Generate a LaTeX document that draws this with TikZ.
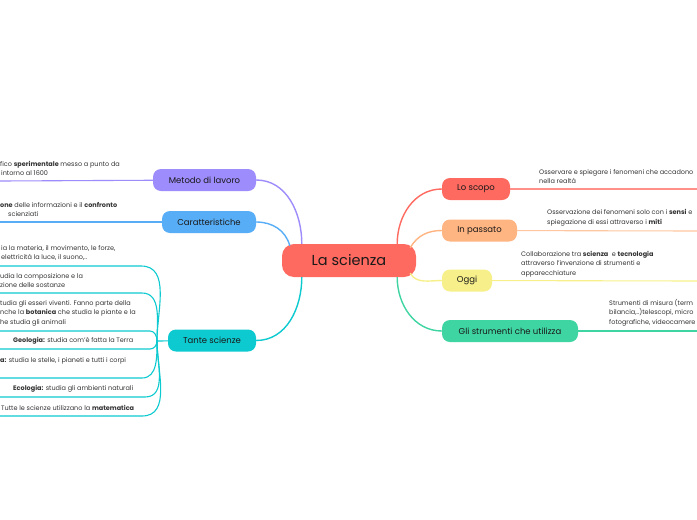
\documentclass[tikz,border=0pt]{standalone}
\usepackage{fontspec}
\setmainfont{Poppins}
\usetikzlibrary{positioning}
\definecolor{scired}{HTML}{FF6A60}
\definecolor{metcol}{HTML}{9D8CFB}
\definecolor{carcol}{HTML}{58AEF6}
\definecolor{tancol}{HTML}{0DCAD0}
\definecolor{pascol}{HTML}{FFB582}
\definecolor{ogcol}{HTML}{F7F08A}
\definecolor{strcol}{HTML}{3FD5A3}
\tikzstyle{topic}=[rounded corners=8pt,minimum height=22pt,inner sep=0pt,font=\fontsize{8.5}{10}\selectfont,text=black!90]
\tikzstyle{note}=[inner sep=0pt,align=left,font=\fontsize{6.5}{9.5}\selectfont,text=black!80]
\tikzstyle{link}=[line width=1.4pt]
\tikzstyle{twig}=[line width=1.1pt]

\begin{document}
\begin{tikzpicture}[x=1pt,y=-1pt]
            \useasboundingbox[fill=white] (0,0) rectangle (697,520);
            \node (sci) [topic,fill=scired,minimum width=134pt,minimum height=33pt,rounded corners=12pt,font=\fontsize{14.5}{16}\selectfont] at (349,260.5) {La scienza};

            % left side
            \node (metodo) [topic,fill=metcol,minimum width=103pt] at (204.5,180) {Metodo di lavoro};
            \node (carat) [topic,fill=carcol,minimum width=94pt] at (209,222) {Caratteristiche};
            \node (tante) [topic,fill=tancol,minimum width=88pt] at (212,340.5) {Tante scienze};

            \draw[link,metcol] ([xshift=20]sci.north west) to[out=90,in=0] (metodo.east);
            \draw[link,carcol] ([xshift=8,yshift=-2]sci.north west) to[out=105,in=0] (carat.east);
            \draw[link,tancol] ([xshift=20]sci.south west) to[out=-90,in=0] (tante.east);

            \coordinate (metend) at (0,181);
            \coordinate (carend) at (0,222);
            \draw[twig,metcol] (metodo) -- (metend);
            \draw[twig,carcol] (carat) -- (carend);
            \node (metnote) [note,anchor=south west] at (0,176) {fico \textbf{sperimentale} messo a punto da\\\hspace*{1pt}intorno al 1600};
            \node (carnote) [note,anchor=south west] at (0,217) {\textbf{one} delle informazioni e il \textbf{confronto}\\\hspace*{8pt}scienziati};

            % the many sciences
            \coordinate (tj) at (157,341);
            \draw[twig,tancol] (tante) -- (tj);
            \foreach \y/\x/\t [count=\i] in {266/141/90,293/142/90,331/150/90,349/150/-90,378/142/-90,397/145/-90,416/142/-90} {
              \coordinate (sc\i) at (\x,\y);
              \coordinate (se\i) at (0,\y);
              \draw[twig,tancol] (tj) to[out=\t,in=0] (sc\i) -- (se\i);
            }
            \node (fis) [note,anchor=south west] at (1,261) {ia la materia, il movimento, le forze,\\elettricità la luce, il suono,..};
            \node (chi) [note,anchor=south west] at (0,288) {udia la composizione e la\\zione delle sostanze};
            \node (bio) [note,anchor=south west] at (0,326) {tudia gli esseri viventi. Fanno parte della\\nche la \textbf{botanica} che studia le piante e la\\he studia gli animali};
            \node (geo) [note,anchor=south west] at (13,344) {\textbf{Geologia:} studia com'è fatta la Terra};
            \node (ast) [note,anchor=south west] at (0,364) {\textbf{a:} studia le stelle, i pianeti e tutti i corpi};
            \node (eco) [note,anchor=south west] at (13,392) {\textbf{Ecologia:} studia gli ambienti naturali};
            \node (mat) [note,anchor=south west] at (1,411) {Tutte le scienze utilizzano la \textbf{matematica}};

            % right side
            \node (scopo) [topic,fill=scired,minimum width=68pt] at (476,189) {Lo scopo};
            \node (passato) [topic,fill=pascol,minimum width=75pt] at (479.5,230.5) {In passato};
            \node (oggi) [topic,fill=ogcol,minimum width=50pt] at (467,280.5) {Oggi};
            \node (strum) [topic,fill=strcol,minimum width=136pt] at (510,331) {Gli strumenti che utilizza};

            \draw[link,scired] ([xshift=-19]sci.north east) to[out=90,in=180] (scopo.west);
            \draw[link,pascol] ([xshift=-6,yshift=-4]sci.north east) to[out=60,in=180] (passato.west);
            \draw[link,ogcol] ([xshift=-6,yshift=4]sci.south east) to[out=-60,in=180] (oggi.west);
            \draw[link,strcol] ([xshift=-19]sci.south east) to[out=-90,in=180] (strum.west);

            \coordinate (scoend) at (697,189);
            \coordinate (pasend) at (697,231);
            \coordinate (ogend) at (697,281);
            \coordinate (strend) at (697,331);
            \draw[twig,scired!75] (scopo) -- (scoend);
            \draw[twig,pascol!75] (passato) -- (pasend);
            \draw[twig,ogcol] (oggi) -- (ogend);
            \draw[twig,strcol] (strum) -- (strend);
            \node (sconote) [note,anchor=south west] at (539,184) {Osservare e spiegare i fenomeni che accadono\\nella realtà};
            \node (pasnote) [note,anchor=south west] at (547,226) {Osservazione dei fenomeni solo con i \textbf{sensi} e\\spiegazione di essi attraverso i \textbf{miti}};
            \node (ognote) [note,anchor=south west] at (521,277) {Collaborazione tra \textbf{scienza}~ e \textbf{tecnologia}\\attraverso l'invenzione di strumenti e\\apparecchiature};
            \node (strnote) [note,anchor=south west] at (609,326) {Strumenti di misura (term\\bilancia,..)telescopi, micro\\fotografiche, videocamere};
            \end{tikzpicture}
\end{document}
